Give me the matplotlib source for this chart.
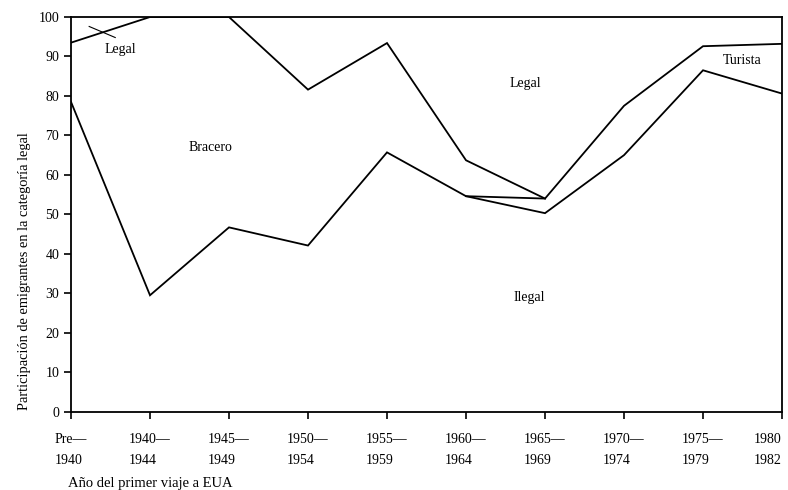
import matplotlib
matplotlib.use("Agg")
import matplotlib.pyplot as plt
import numpy as np

plt.rcParams['font.family'] = ['Liberation Serif', 'DejaVu Serif']

periods = ["Pre—\n1940", "1940—\n1944", "1945—\n1949", "1950—\n1954", "1955—\n1959",
           "1960—\n1964", "1965—\n1969", "1970—\n1974", "1975—\n1979", "1980\n1982"]
# upper boundary (Legal above)
legal_lower = [93.5, 100.0, 100.0, 81.6, 93.4, 63.7, 54.0, 77.5, 92.6, 93.2]
# lower boundary of Bracero
bracero_lower = [78.5, 29.5, 46.7, 42.1, 65.7, 54.6, 54.0, np.nan, np.nan, np.nan]
# upper boundary of Ilegal (lower boundary of Turista)
ilegal_upper = [np.nan, np.nan, np.nan, np.nan, np.nan, 54.6, 50.3, 65.0, 86.5, 80.6]
yticks = list(range(0, 101, 10))

fig = plt.figure(figsize=(7.88, 4.90), dpi=100)
ax = fig.add_axes([0.0901, 0.1598, 0.9023, 0.8055])
x = np.arange(len(periods))

for s in (legal_lower, bracero_lower, ilegal_upper):
    ax.plot(x, s, color='black', lw=1.3, solid_joinstyle='miter')

ax.set_xlim(0, len(periods) - 1)
ax.set_ylim(0, 100)
ax.set_yticks(yticks)
ax.set_yticklabels([str(v) for v in yticks], fontsize=10)
ax.set_xticks(x)
labels = ax.set_xticklabels(periods, fontsize=10, linespacing=1.85, multialignment='left')
labels[-1].set_horizontalalignment('right')
ax.tick_params(axis='both', direction='out', length=5, width=1.2, colors='black')
ax.tick_params(axis='x', pad=10)
for sp in ax.spines.values():
    sp.set_linewidth(1.3)

fig.text(25 / 788, 1 - 410 / 490, "Participación de emigrantes en la categoría legal",
         fontsize=10.4, rotation=90, ha='center', va='bottom')
fig.text(68 / 788, 1 - 483 / 490, "Año del primer viaje a EUA", fontsize=10.5,
         ha='left', va='center')

# region labels
ax.text(1.77, 67, "Bracero", fontsize=10, ha='center', va='center')
ax.text(5.75, 83.2, "Legal", fontsize=10, ha='center', va='center')
ax.text(8.5, 89, "Turista", fontsize=10, ha='center', va='center')
ax.text(5.8, 29, "Ilegal", fontsize=10, ha='center', va='center')
ax.text(0.63, 91.8, "Legal", fontsize=10, ha='center', va='center')
ax.plot([0.23, 0.56], [97.6, 94.8], color='black', lw=0.8)

fig.savefig("out.png", dpi=100, facecolor='white')
